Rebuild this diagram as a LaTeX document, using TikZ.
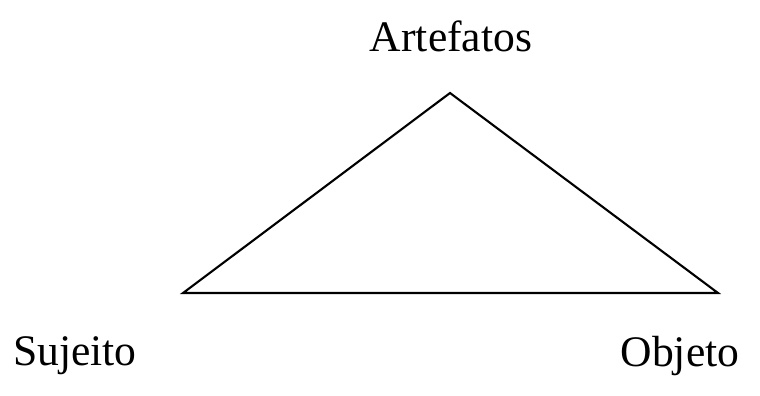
\documentclass[tikz,border=0pt]{standalone}
\usepackage{fontspec}
\setmainfont{Liberation Serif}
\usetikzlibrary{positioning}

\tikzset{
    label text/.style={font=\fontsize{31}{36}\selectfont, inner sep=0pt},
    side line/.style={line width=1.5pt, color=black, line join=miter}
}

\begin{document}
\begin{tikzpicture}[x=0.025cm, y=-0.025cm]

    % --- Frame (keeps the margins of the picture) ---
    \useasboundingbox (0,0) rectangle (760,395);

    % --- Corners of the triangle ---
    \coordinate (top) at (450,93);
    \coordinate (left) at (183,293);
    \coordinate (right) at (718,293);

    % Sides
    \draw[side line] (left) -- (top) -- (right) -- cycle;

    % --- Labels ---
    \node[label text] (artefatos) at (451,36) {Artefatos};
    \node[label text] (sujeito) at (75,356) {Sujeito};
    \node[label text] (objeto) at (680,356) {Objeto};

\end{tikzpicture}
\end{document}
